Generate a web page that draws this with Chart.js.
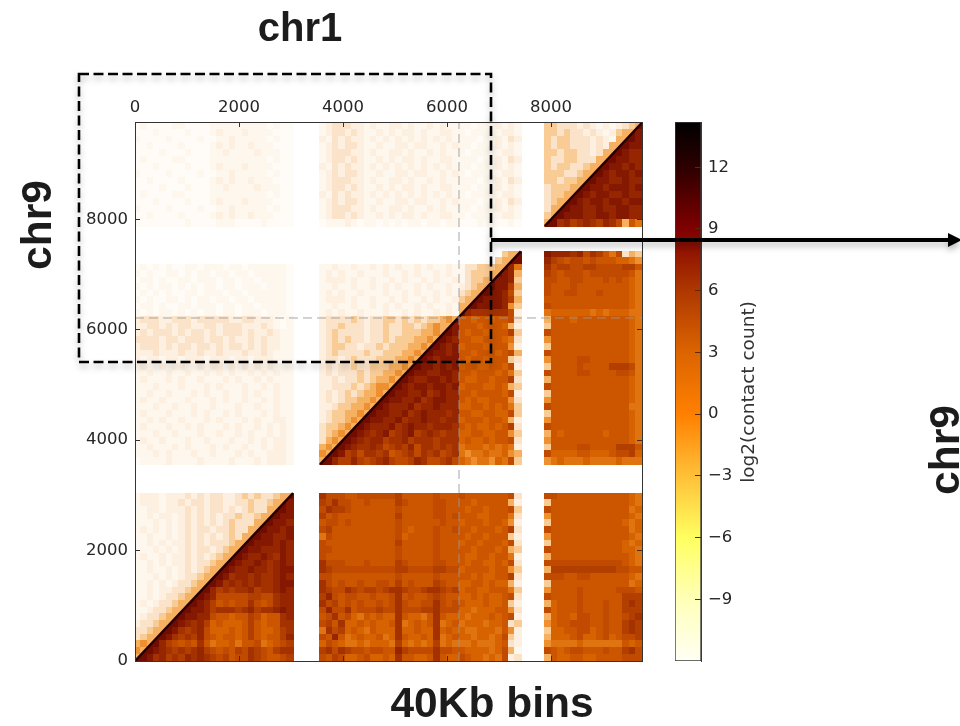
<!DOCTYPE html>
<html>
<head>
<meta charset="utf-8">
<title>chr1 chr9 contact map</title>
<script src="https://cdn.jsdelivr.net/npm/chart.js@4/dist/chart.umd.min.js"></script>
<style>
    html, body { margin: 0; padding: 0; background: #fff; width: 960px; height: 726px; overflow: hidden; }
    canvas { position: absolute; top: 0; filter: blur(0.4px); }
    #heatCanvas { left: 0; }
    #barCanvas { left: 660px; }
    #marks { position: absolute; left: 0; top: 0; filter: drop-shadow(0 4px 3px rgba(0,0,0,0.28)); }
    .big { position: absolute; font: bold 40px "Liberation Sans", Arial, sans-serif; color: #1c1c1c; white-space: nowrap; transform: translate(-50%, -50%); }
    .side { font-size: 42.5px; transform: translate(-50%, -50%) rotate(-90deg); }
    #barTitle { position: absolute; left: 747px; top: 392px; font: 18.5px "DejaVu Sans", sans-serif; color: #333; white-space: nowrap; transform: translate(-50%, -50%) rotate(-90deg); }
</style>
</head>
<body>
<canvas id="heatCanvas" width="660" height="726"></canvas>
<canvas id="barCanvas" width="120" height="726"></canvas>
<svg id="marks" width="960" height="726">
    <rect x="79" y="74" width="412" height="288" fill="none" stroke="#000" stroke-width="2.6" stroke-dasharray="10 4.5"></rect>
    <line x1="491" y1="240" x2="950" y2="240" stroke="#000" stroke-width="4"></line>
    <polygon points="948,233 962,240 948,247" fill="#000"></polygon>
</svg>
<div class="big" style="left:300px;top:27px">chr1</div>
<div class="big side" style="left:37px;top:225px">chr9</div>
<div class="big side" style="left:945px;top:450px">chr9</div>
<div class="big" style="left:492px;top:703px;font-size:42.5px">40Kb bins</div>
<div id="barTitle">log2(contact count)</div>

<script>
// Bin edges of the four mapped blocks, same on both axes
const edgesA = [0, 122, 243, 365, 486, 608, 730, 851, 973, 1094, 1216, 1338, 1459, 1581, 1702, 1824, 1946, 2067, 2189, 2310, 2432, 2554, 2675, 2797, 2918, 3040];
const edgesB = [3560, 3682, 3804, 3925, 4047, 4169, 4291, 4413, 4535, 4656, 4778, 4900, 5022, 5144, 5265, 5387, 5509, 5631, 5753, 5875, 5996, 6118, 6240];
const edgesC = [6240, 6358, 6476, 6594, 6712, 6830, 6948, 7066, 7184, 7302, 7420];
const edgesD = [7880, 8005, 8131, 8256, 8381, 8507, 8632, 8757, 8883, 9008, 9133, 9259, 9384, 9509, 9635, 9760];

// Contact levels, one letter per bin, '.' is empty.
// Each row is "blockA blockB blockC blockD", listed from the top of its block down.
const rowsD = [
    "abaaaabbaaaabbbbbbbbbabaa bcdddccbcbbccbcbbcbcbb bbabbbcbcb eedddcdcbcbcdeq",
    "aaabaaaabaaabcbbbcbbbbaaa bcddcdcbbcbcbccbcbbccb babbbbbccb eededdcdcbcefqo",
    "baaaabaaaabaabbcbbbbbabaa cbdcdccbcbcbcbcbcbcbcb bbbabbcbdc edeedddcdcbfqpo",
    "aabaaaabaaaabcbcbbcbbbaaa bcdcddcbbcbbccbccbbcbc bbabbbcbcb edeedddcdcfqpoo",
    "aaaabaaabaaabbcbbbbcbbbaa bcdddccbcbbccbcbbcbcbb babbbbbccb eedeeddcdfqponn",
    "abaaaabbaaaabbbbbbbbbabaa bcddcdcbbcbcbccbcbbccb bbbabbcbdc eddeedddfqpoonn",
    "aaabaaaabaaabcbbbcbbbbaaa cbdcdccbcbcbcbcbcbcbcb bbabbbcbcb edeeddefqpoonon",
    "baaaabaaaabaabbcbbbbbabaa bcdcddcbbcbbccbccbbcbc babbbbbccb eeeddefqponoono",
    "aabaaaabaaaabcbcbbcbbbaaa bcdddccbcbbccbcbbcbcbb bbbabbcbdc eedeefqpoonnonn",
    "aaaabaaabaaabbcbbbbcbbbaa bcddcdcbbcbcbccbcbbccb bbabbbcbcb deeefqpoonooono",
    "abaaaabbaaaabbbbbbbbbabaa cbdcdccbcbcbcbcbcbcbcb babbbbbccb deefqponoonnonn",
    "aaabaaaabaaabcbbbcbbbbaaa bcdcddcbbcbbccbccbbcbc bbbabbcbdc defqponoonoonoo",
    "baaaabaaaabaabbcbbbbbabaa bcdddccbcbbccbcbbcbcbb bbabbbcbcb dfqpoonnonnoonn",
    "aabaaaabaaaabcbcbbcbbbaaa bcddcdcbbcbcbccbcbbccb babbbbbccb eqpooonnoonoonn",
    "aaaaaaaabaaaabbbaaaabaaaa abbbcbabbabababbabbabb aaabaaaaba qpmnlmnmlnmkfjh"
];
const rowsC = [
    "......................... ...................... .......efq onnnmnkmljhkdfe",
    "......................... ...................... ......efqp nlkjkkjkjjjiihg",
    "abababaabbabbbabbabbbbbba bbcbbcbbcbcbcbbcbcbbcb bddeeefqnh mkllkkllkkkkllj",
    "babaabbababbabbabbabbbbba bcbcbbcbbbcbbcbcbbcbcb bdeeefqonf lkjkkkjkkkkkkjh",
    "abbabaabbabbbabbabbabbbba bcccbcbbcbbcbcbbcbcbbc bdeefqoone kkjjkkjjjkjkjih",
    "bababbabababbabbabbbabbba bbcbbcbbcbcbcbbcbcbbcb cdefqpoolf kjjjkjjjjjjjjih",
    "abababaabbabbbabbabbbbbba bcbcbbcbbbcbbcbcbbcbcb defqpoonke kjjkkjjjkjjjjih",
    "babaabbababbabbabbabbbbba bcccbcbbcbbcbcbbcbcbbc efqpooonlf jjjjjjjjjjjjjih",
    "abbabaabbabbbabbabbabbbba bbcbbcbbcbcbcbbcbcbbcb fqpoooonge kjjjjjjjjjjjjih",
    "bababbabababbabbabbbabbba bcbcbbcbbbcbbcbcbbcbcb qnmmmmmmkc hiiiiiihihiiihh"
];
const rowsB = [
    "cdddccdddcdddddccddcccbab cddddedcddeedededeefgq jjijjijjkd fjjjijjjjjjjjih",
    "ccddcdcddccddcdddcccdcbab cddedddcddeddeedefgfqo jjjijjjifc ejjjjjjjjjjjjih",
    "cdcdddcdcddcdcdddcdccdcbb cdeddddcddeddeeeffgqpo jijjijjjle kjjjjjjjjjjjjih",
    "ddddcddcdddcddcdccdcdccbb cdededdcddedeeeffgqpon jjiijjjihd gjjjjjjjjjjjjih",
    "cdddcdcddcddcdcddcdcdccbb cdeeddcddedeeeffgqpono ijjjijjjgc ejjjjjjjjjjjjih",
    "cccdcccdccdccdcccdccdcbbb cdeddddeddeeeffgqpoono jjijjjijkf kjjjjjjjjjjjjih",
    "cbccbccbcccbcccbccbcccbbb cddcdedddeeeffgqponooo jijjijjjed gjjjjkkjjjjjjih",
    "bcbbcbccbbcbccbcbcbcbcbbb cdcddeddeeeffgqpoonono ijjiijjikc ejjjjkjjjjlllkh",
    "bbcbbcbbcbbcbcbcbbcbcbcbb cdcdddedeeffgqpoonnoon jjijjjijhe kjjjjkkjjjjkkjh",
    "bcbbbcbcbbcbbbcbcbbcbcbbb ccdcddedeffgqponnoonon jiijjijjld fjjjjjjjjjjjjih",
    "bbbcbbbcbbbcbcbbbcbbcbcbb ccdddedefggqponoonoono ijjjiijife kjjjjjjjjjjjjih",
    "bbcbbcbbbcbcbbcbbcbcbbcbb cdcdedeffgqpoonnomnonn jjijjjjikc ejjjjjjjjjjjjih",
    "bcbbcbbbcbbbcbcbbcbbcbcbb cdcdeeffgqpoonnomnoonn jijiijjjgd gjjjjjjjjjjjjih",
    "bbbcbbcbbcbbcbbbcbbcbbcbb ccdeeffgqponnnomnnonnn iijjijijhe kjjjjjjjjjjjjhh",
    "bcbbbcbbbcbcbbcbcbbbcbcbb cdeeffgqpoonnomnonnnmn jjiijjiike ejjjjjjjjjjjjih",
    "bbcbcbbcbbbcbcbbbcbcbbccb cdeefgqpoonnomnnonnmnn ijjjijjifc gjjjjjjjjjjjjih",
    "bcbbbcbbcbcbbbcbcbbcbcbcb deefgqponnnomnonnmnnnm jijiijijld kjjjjjjjjjjjjih",
    "bbbcbbcbbbcbbcbbcbcbbcbcb defgqponmnolmnolmnmlmm iijjiijjge fjijjjjjjijjjih",
    "bcbbcbbbcbbcbbbcbbcbcbccb dfgqponmnnlmmnlmmmlmmm ijiijijjkd gjjjjjjjjjjjjih",
    "bbcbbbcbcbbbcbcbbcbbcbccb fgqponmmnmklmlnkmmlmlm hiiihihihc ejjjjkkjjjjlllj",
    "bbbcbcbbbcbbcbbbcbcbbcccb gqpolmkmmlmjklmkmlmklm hghhihhigf kiiiijjiiijkkli",
    "abbbbcbbbbcbbbbcbbbcbcccb qpnllnlklmnlkklnmkklmk ihghhgihke ghihhhihhhhihhh"
];
const rowsA = [
    "bcccbcccdcdcddccdededdefq mkkkjjkkkkkkljjjjjkjjj kjjjjjjjkd kkjjjjjjjjjjjih",
    "bcccbccdcddcddccddeddefqo lkmkkjjkjjjjlkjjjjkkjj jjijjjjjfc ejjjjjjjjjjjjih",
    "bbccbcccdcdcddcdcdeddfqpo kmllkjjjjjjjkjjjjjkkjj jijjijjjke kjjjjjjjjjjjjhi",
    "bbcbccbcdcdcdcddeddefqpoo ljkjjjjjjjjjljjjjjkkjk jjjiijjjhd gjjjjjjjjjjjjih",
    "bbbcbcbcdcdcdcdedddfqpoon jkkjkjjjjjjjkjjjjjjkjj ijjjijjigc ejjjjjjjjjjjihi",
    "bcbcbcbcdcddcddeddfqpoono kljjjjjjjjjjkjijjjkjjk jjijjjijld kjjjjjjjjjjjjhi",
    "bbcbbcbcdcdcdcdedfqpoonno hkjjjjjjjjjjkijjjjkjjj jijjijjjec gjjjjjjjjjjjjih",
    "bbcbcbccdcdcdddefqpooonon kjjjjjjjjjjjljjjjjkjjj ijjijjjikd ejjjjjjjjjjjihi",
    "bbbcbcbcdcddcdefqpoonnnon kkjjjjjjjjjjkjjjjjkjjj jjijjjijfe kjjjjjjjjjjjiih",
    "bcbbcbccdcdcdefqponnonmon kjjjjjjjjjjjkjjjjjkjjj jiijjijjhc fjjjjjjjjjjjjih",
    "bbcbcbccdcddefqponnonmnon mkkkjjjkjjjjlkjjjjkkjj jijjiijikd kkkkkkkkkkkkjih",
    "bbcbbcbcdcdefqponnonnmnoo mlkkkkkkkkkkllkkkkllkk ijjjjijjge fllllllllllkkjj",
    "bbbcbcbcddefqpomnnmnmmnon kkjjjjjjjjjjkjjjjjkjjj jjijiijjld kkkjjkkjjjjjjih",
    "bbcbcbcddefqpomnmnmnmmnoo mkjkjjkjjkkjljkjjjlkjj iijjijiifc ejjjjjjjjjjjjhi",
    "bbcbccddefqpnlmlmmnlmmnon mlkkmlkllklmmlkklmmlkl ijjiijjjhe gjjjjkjjjjjkkkj",
    "bbcbcddefqponkkkkkllkkmnn lnkjkkjjkjjkmjkjjklkjj iijijiijkd kjjjjkjjjjjjlll",
    "bcbcddefqponljkjkkmkjkmnn mkljkjkjjkjkmkjjkkmkjk jiiijiijec fijjjkjjjkjjlml",
    "bbcddefqpoonlmmmlmnlmmnon knkkmjkkklkkmkkkllmkkk iihiiijjgd kijjjkjjjkjjlll",
    "bcddefqpoonnkjjijjlkijjmn jkmjkihjijiimjiihjmjii ihiiijijkc fijjikkjjkjjklm",
    "cddefqponmnlijiiijljijjmm kljmiijijiijmhijijmhij hiiihiijde gijjkkkjjkjjlml",
    "ddefqpomlmnkiiijijljiijlm hmklijihjiiimiijiimiji ihhiiihjgc eiijjkkijkjjlml",
    "defqpomlmlnkjijjijljijjln kjnjhijiijhimjiijimhij iihiihikec fiiijkiijkijkkl",
    "fgqpnlkjkjmjhiijhjjkhijkl ikjihhihiiihlihihilhih hhihhhijdc ghhhhihhhhhhjij",
    "gqponmlmlmnlkjkjlkmlkjlmm lmkmlkkjkkjjnlkkkkmkkj jiiiihikfb kjijkkjjjkjjlmk",
    "qpomnlmlnmnmlkljkkmlkjjkl kjlkiijkiijimjjiijmjii kjiihihkcd fjiijjiijjjjkkk"
];

const levelLetters = "abcdefghijklmnopqr";
const levelColors = ["#fffcf8", "#fef7ee", "#fdf0e0", "#fbe3ca", "#f9cb95", "#f5b062", "#ee9030", "#e07410", "#d66200",
    "#cc5600", "#c04a00", "#b23f00", "#a43200", "#962600", "#851800", "#700c00", "#400400", "#140000"];
// bins the diagonal crosses are split in two along it
const diagonalUpperLevel = 5;
const diagonalLowerLevel = 15;

const axisTicksX = [0, 2000, 4000, 6000, 8000];
const axisTicksY = [0, 2000, 4000, 6000, 8000];
const axisMaxX = 9750;
const axisMaxY = 9764;

const diagonalX = [0, 3040, null, 3560, 7420, null, 7880, 9760];
const diagonalY = [0, 3040, null, 3560, 7420, null, 7880, 9760];
const cutX = [6231, 6231];
const cutY = [0, 9764];
const cut2X = [0, 9750];
const cut2Y = [6214, 6214];

const colorbarRange = [-12, 14.2];
const colorbarTicks = [-9, -6, -3, 0, 3, 6, 9, 12];
const colorbarStops = [-12, -9, -6, -3, 0, 3, 6, 9, 12, 14.2];
const colorbarColors = ["#fffff5", "#ffffb8", "#ffff60", "#ffc038", "#ff8000", "#dc6400", "#ae3800", "#800000", "#2e0000", "#000000"];

const TEXT_COLOR = "#262626";
const LINE_COLOR = "#333333";

function buildCells() {
    const cells = [];
    const blocks = [edgesA, edgesB, edgesC, edgesD];

    function addRows(rows, rowEdges) {
        rows.forEach((row, r) => {
            const top = rowEdges[rowEdges.length - 1 - r];
            const bottom = rowEdges[rowEdges.length - 2 - r];
            row.split(" ").forEach((part, b) => {
                const edges = blocks[b];
                for (let c = 0; c < part.length; c++) {
                    const level = levelLetters.indexOf(part[c]);
                    if (level < 0) continue;
                    cells.push({
                        x: (edges[c] + edges[c + 1]) / 2,
                        y: (top + bottom) / 2,
                        x0: edges[c], x1: edges[c + 1],
                        y0: bottom, y1: top,
                        level: level
                    });
                }
            });
        });
    }

    addRows(rowsD, edgesD);
    addRows(rowsC, edgesC);
    addRows(rowsB, edgesB);
    addRows(rowsA, edgesA);
    return cells;
}

// Point style for one bin, a small canvas sized from the chart scales
const cellSprites = {};
function cellSprite(ctx) {
    const cell = ctx.raw;
    if (!cell) return "rect";
    const { x, y } = ctx.chart.scales;
    const w = Math.ceil(Math.abs(x.getPixelForValue(cell.x1) - x.getPixelForValue(cell.x0))) + 1;
    const h = Math.ceil(Math.abs(y.getPixelForValue(cell.y1) - y.getPixelForValue(cell.y0))) + 1;
    const onDiagonal = cell.x0 === cell.y0;
    const key = (onDiagonal ? "d" : cell.level) + "_" + w + "_" + h;
    if (!cellSprites[key]) {
        const sprite = document.createElement("canvas");
        sprite.width = w;
        sprite.height = h;
        const g = sprite.getContext("2d");
        g.fillStyle = levelColors[onDiagonal ? diagonalLowerLevel : cell.level];
        g.fillRect(0, 0, w, h);
        if (onDiagonal) {
            g.fillStyle = levelColors[diagonalUpperLevel];
            g.beginPath();
            g.moveTo(0, 0);
            g.lineTo(w, 0);
            g.lineTo(0, h);
            g.closePath();
            g.fill();
        }
        cellSprites[key] = sprite;
    }
    return cellSprites[key];
}

function lineData(xs, ys) {
    return xs.map((v, i) => ({ x: v, y: ys[i] }));
}

function frameScale(position, size, ticks, max, labelled) {
    const horizontal = position === "top" || position === "bottom";
    return {
        type: "linear",
        position: position,
        min: 0,
        max: max,
        afterBuildTicks: scale => { scale.ticks = ticks.map(v => ({ value: v })); },
        afterFit: scale => {
            if (horizontal) scale.height = size; else scale.width = size;
        },
        grid: { drawOnChartArea: false, tickLength: -5, color: LINE_COLOR, z: 1 },
        border: { color: LINE_COLOR, width: 1, z: 2 },
        ticks: {
            display: labelled,
            autoSkip: false,
            maxRotation: 0,
            padding: horizontal ? 9 : 12,
            color: TEXT_COLOR,
            font: { family: "DejaVu Sans", size: 16.5 },
            callback: v => String(v)
        }
    };
}

function createHeatmap() {
    new Chart(document.getElementById("heatCanvas"), {
        type: "scatter",
        data: {
            datasets: [
                { data: lineData(cutX, cutY), showLine: true, pointRadius: 0, borderColor: "rgba(150,150,150,0.85)", borderWidth: 1, borderDash: [9, 5] },
                { data: lineData(cut2X, cut2Y), showLine: true, pointRadius: 0, borderColor: "rgba(150,150,150,0.85)", borderWidth: 1, borderDash: [9, 5] },
                { data: lineData(diagonalX, diagonalY), showLine: true, pointRadius: 0, borderColor: "#260000", borderWidth: 2.5 },
                { data: buildCells(), pointRadius: 1, pointStyle: cellSprite, showLine: false }
            ]
        },
        options: {
            responsive: false,
            animation: false,
            events: [],
            layout: { padding: { left: 0, top: 0, right: 18, bottom: 65 } },
            plugins: { legend: { display: false }, tooltip: { enabled: false } },
            scales: {
                x: frameScale("top", 122, axisTicksX, axisMaxX, true),
                y: frameScale("left", 135, axisTicksY, axisMaxY, true),
                x2: frameScale("bottom", 0, axisTicksX, axisMaxX, false),
                y2: frameScale("right", 0, axisTicksY, axisMaxY, false)
            }
        }
    });
}

function colorbarFill(ctx) {
    const { ctx: g, scales, chartArea } = ctx.chart;
    const y = scales.y;
    if (!y || !chartArea) return colorbarColors[4];
    const low = y.getPixelForValue(colorbarRange[0]);
    const high = y.getPixelForValue(colorbarRange[1]);
    if (!isFinite(low) || !isFinite(high)) return colorbarColors[4];
    const grad = g.createLinearGradient(0, low, 0, high);
    colorbarStops.forEach((v, i) => {
        grad.addColorStop((v - colorbarRange[0]) / (colorbarRange[1] - colorbarRange[0]), colorbarColors[i]);
    });
    return grad;
}

function createColorbar() {
    new Chart(document.getElementById("barCanvas"), {
        type: "bar",
        data: {
            labels: ["log2(contact count)"],
            datasets: [{
                data: [colorbarRange],
                backgroundColor: colorbarFill,
                borderColor: "#3a3a3a",
                borderWidth: 1,
                borderSkipped: false,
                barPercentage: 1,
                categoryPercentage: 1
            }]
        },
        options: {
            responsive: false,
            animation: false,
            events: [],
            layout: { padding: { left: 15, top: 122, right: 0, bottom: 65 } },
            plugins: { legend: { display: false }, tooltip: { enabled: false } },
            scales: {
                x: { display: false },
                y: {
                    position: "right",
                    min: colorbarRange[0],
                    max: colorbarRange[1],
                    afterBuildTicks: scale => { scale.ticks = colorbarTicks.map(v => ({ value: v })); },
                    afterFit: scale => { scale.width = 79; },
                    grid: { drawOnChartArea: false, tickLength: -6, color: "#5a2a10", z: 1 },
                    border: { color: "#3a3a3a", z: 2 },
                    ticks: {
                        padding: 13,
                        color: TEXT_COLOR,
                        font: { family: "DejaVu Sans", size: 16.5 },
                        callback: v => String(v).replace("-", "\u2212")
                    }
                }
            }
        }
    });
}

window.addEventListener("load", function() {
    createHeatmap();
    createColorbar();
});
</script>
</body>
</html>
